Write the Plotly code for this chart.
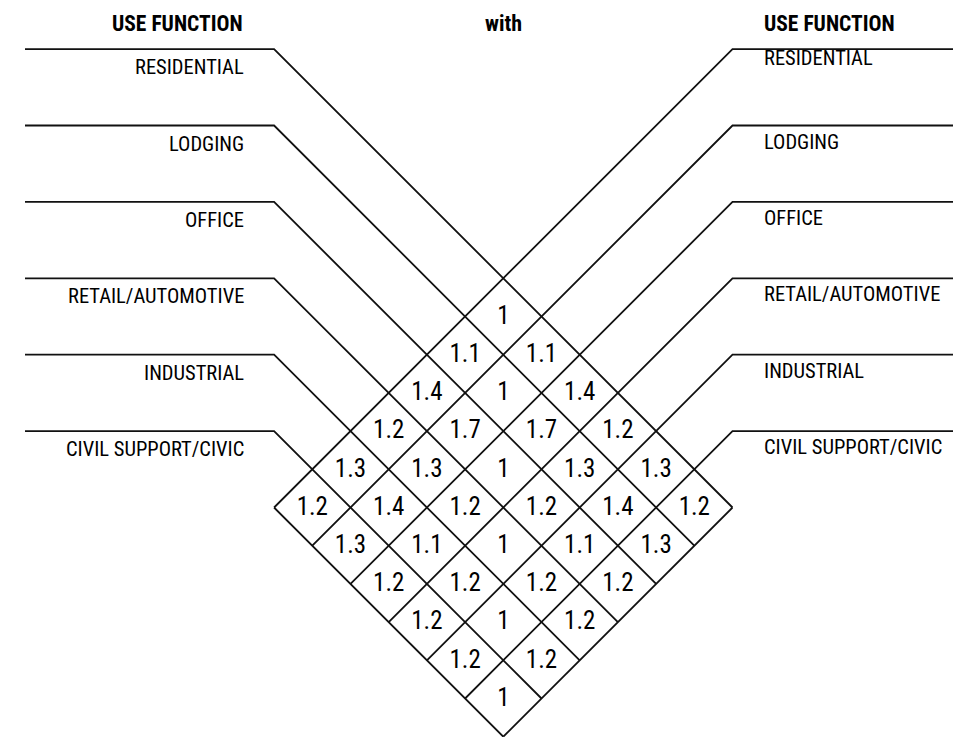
import plotly.graph_objects as go

# ---------------- data ----------------
uses = ["RESIDENTIAL", "LODGING", "OFFICE", "RETAIL/AUTOMOTIVE",
        "INDUSTRIAL", "CIVIL SUPPORT/CIVIC"]
factors = [
    [1.0, 1.1, 1.4, 1.2, 1.3, 1.2],
    [1.1, 1.0, 1.7, 1.3, 1.4, 1.3],
    [1.4, 1.7, 1.0, 1.2, 1.1, 1.2],
    [1.2, 1.3, 1.2, 1.0, 1.2, 1.2],
    [1.3, 1.4, 1.1, 1.2, 1.0, 1.2],
    [1.2, 1.3, 1.2, 1.2, 1.2, 1.0],
]
header_left = "USE FUNCTION"
header_mid = "with"
header_right = "USE FUNCTION"

# ---------------- geometry ----------------
W, Hpx = 961, 737
PAD = 8                    # default page body margin
TX, TY = 503.3, 278.3      # top vertex of the diamond
H = 38.2                   # half diagonal of a cell
N = len(uses)
LEFT_START = 25
RIGHT_END = 961
FONT = "Roboto Condensed, DejaVu Sans Condensed, sans-serif"
LW = 1.8

lx, ly = [], []
rx, ry = [], []
for i in range(N + 1):
    # left family: lines going down-right
    px, py = TX - i * H, TY + i * H
    cx = TX - N * H
    cy = TY + (2 * i - N) * H
    ex, ey = px + N * H, py + N * H
    if i < N:
        lx += [LEFT_START, cx, ex, None]
        ly += [cy, cy, ey, None]
    else:
        lx += [cx, ex, None]
        ly += [cy, ey, None]
    # right family: lines going down-left
    qx, qy = TX + i * H, TY + i * H
    dx = TX + N * H
    dy = TY + (2 * i - N) * H
    fx, fy = qx - N * H, qy + N * H
    if i < N:
        rx += [RIGHT_END, dx, fx, None]
        ry += [dy, dy, fy, None]
    else:
        rx += [dx, fx, None]
        ry += [dy, fy, None]

fig = go.Figure()
fig.add_trace(go.Scatter(x=lx, y=ly, mode="lines",
                         line=dict(color="#111111", width=LW),
                         hoverinfo="skip", showlegend=False))
fig.add_trace(go.Scatter(x=rx, y=ry, mode="lines",
                         line=dict(color="#111111", width=LW),
                         hoverinfo="skip", showlegend=False))

# cell values
tx, ty, tt = [], [], []
for i in range(N):
    for j in range(N):
        tx.append(TX + (j - i) * H)
        ty.append(TY + H + (i + j) * H + 1)
        tt.append(f"{factors[i][j]:g}")
fig.add_trace(go.Scatter(x=tx, y=ty, mode="text", text=tt,
                         textfont=dict(family=FONT, size=25, color="black"),
                         hoverinfo="skip", showlegend=False))

ann = []
for i, name in enumerate(uses):
    cy = TY + (2 * i - N) * H
    ann.append(dict(x=TX - N * H - 28, y=cy + 18, text=name, xanchor="right",
                    yanchor="middle", showarrow=False,
                    font=dict(family=FONT, size=20.5, color="black")))
    ry_off = 9 if i == 0 else 16
    ann.append(dict(x=TX + N * H + 29, y=cy + ry_off, text=name, xanchor="left",
                    yanchor="middle", showarrow=False,
                    font=dict(family=FONT, size=20.5, color="black")))

ann.append(dict(x=TX - N * H - 29, y=23, text=f"<b>{header_left}</b>", xanchor="right",
                yanchor="middle", showarrow=False,
                font=dict(family=FONT, size=21.5, color="black")))
ann.append(dict(x=TX, y=23, text=f"<b>{header_mid}</b>", xanchor="center",
                yanchor="middle", showarrow=False,
                font=dict(family=FONT, size=22, color="black")))
ann.append(dict(x=TX + N * H + 29, y=23, text=f"<b>{header_right}</b>", xanchor="left",
                yanchor="middle", showarrow=False,
                font=dict(family=FONT, size=21.5, color="black")))

fig.update_layout(
    width=W - PAD, height=Hpx - PAD,
    margin=dict(l=0, r=0, t=0, b=0),
    paper_bgcolor="white", plot_bgcolor="white",
    xaxis=dict(range=[PAD, W], visible=False, fixedrange=True),
    yaxis=dict(range=[Hpx, PAD], visible=False, fixedrange=True),
    annotations=ann,
)
fig.write_html("out.html")
